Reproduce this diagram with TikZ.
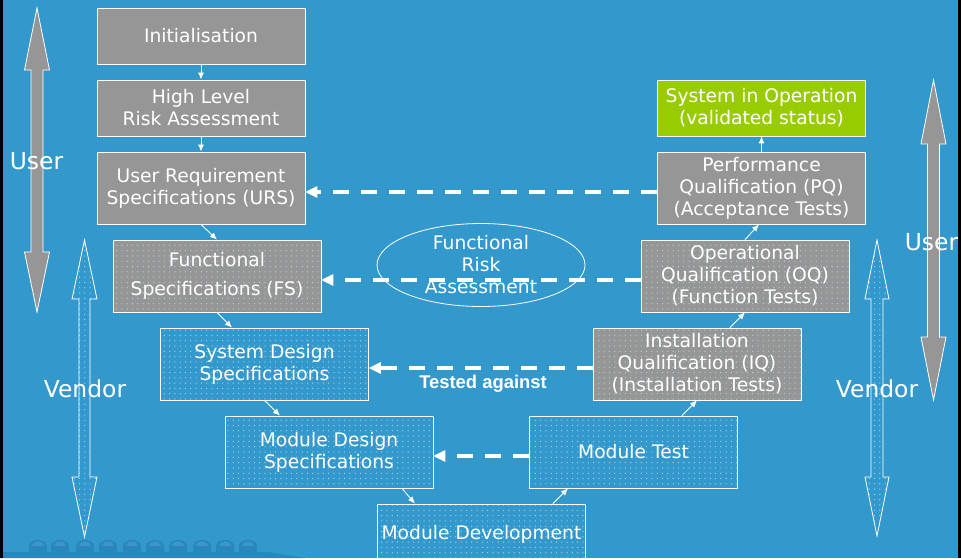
\documentclass[tikz,border=0pt]{standalone}
\usepackage{fontspec}
\setmainfont{DejaVu Sans}
\newfontfamily\arialfont{Liberation Sans}
\usetikzlibrary{arrows.meta,shapes.geometric,patterns.meta}
\definecolor{bgblue}{RGB}{51,153,204}
\definecolor{boxgray}{RGB}{150,150,150}
\definecolor{opgreen}{RGB}{153,204,0}
\definecolor{dotcol}{RGB}{165,212,228}
\definecolor{darkband}{RGB}{40,136,190}
\definecolor{domecol}{RGB}{60,150,200}
\begin{document}
\begin{tikzpicture}[x=1pt,y=-1pt,
  txt/.style={text=white, font=\fontsize{18.7}{22}\selectfont, align=center},
  box/.style={txt, draw=white, line width=0.8pt, inner sep=0pt, minimum width=208pt},
  graybox/.style={box, fill=boxgray},
  greenbox/.style={box, fill=opgreen},
  dotgray/.style={box, preaction={fill=boxgray}, pattern={Dots[distance=5.3pt,radius=0.65pt]}, pattern color=dotcol},
  dotblue/.style={box, pattern={Dots[distance=5.3pt,radius=0.65pt]}, pattern color=dotcol},
  flow/.style={white, line width=0.9pt, -{Latex[length=7pt,width=6pt]}},
  dasharrow/.style={white, line width=4pt, dash pattern=on 16pt off 12pt, -{Triangle[length=12pt,width=12pt,line width=0pt]}},
  side/.style={text=white, font=\fontsize{23.4}{28}\selectfont, inner sep=0pt},
  graybig/.style={draw=white, line width=0.8pt, fill=boxgray},
  dotbig/.style={draw=white, line width=0.8pt, pattern={Dots[distance=5.3pt,radius=0.65pt]}, pattern color=dotcol},
]
\useasboundingbox (0,0) rectangle (961,558);
\fill[bgblue] (0,0) rectangle (961,558);

% bottom decoration
\fill[darkband] (0,552) -- (268,552) -- (305,558) -- (0,558) -- cycle;
\foreach \dx in {38,60,85,108,132,155,178,202,225,248}{
  \fill[darkband] (\dx-9,553) -- (\dx-9,546) .. controls (\dx-9,538) and (\dx+9,538) .. (\dx+9,546) -- (\dx+9,553) -- cycle;
  \fill[domecol] (\dx-6,546) .. controls (\dx-6,540) and (\dx+6,540) .. (\dx+6,546) -- cycle;
}

% black edges
\fill[black] (0,0) rectangle (3,558);
\fill[black] (958,0) rectangle (961,558);

% big side arrows
\draw[graybig] (37,8) -- (49.5,70) -- (43,70) -- (43,252) -- (49.5,252) -- (37,312) -- (24.5,252) -- (31,252) -- (31,70) -- (24.5,70) -- cycle;
\draw[graybig] (933.5,80) -- (946,144) -- (939.5,144) -- (939.5,337) -- (946,337) -- (933.5,400) -- (921,337) -- (927.5,337) -- (927.5,144) -- (921,144) -- cycle;
\draw[dotbig] (84.5,240) -- (97,299) -- (90,299) -- (90,477) -- (97,477) -- (84.5,537) -- (72,477) -- (79,477) -- (79,299) -- (72,299) -- cycle;
\draw[dotbig] (877,240) -- (889,299) -- (883,299) -- (883,477) -- (889,477) -- (877,536) -- (865,477) -- (871,477) -- (871,299) -- (865,299) -- cycle;

\node[side] (userL) at (36.5,161) {User};
\node[side] (vendL) at (85,389) {Vendor};
\node[side] (userR) at (931.5,242) {User};
\node[side] (vendR) at (877,389) {Vendor};

% boxes
\node[graybox, minimum height=56pt] (init) at (201,36) {Initialisation};
\node[graybox, minimum height=56pt] (hlra) at (201,108) {High Level\\ Risk Assessment};
\node[graybox, minimum height=72pt] (urs) at (201,188) {User Requirement\\Specifications (URS)};
\node[dotgray, minimum height=72pt] (fs) at (217,276) {Functional\\[7pt]Specifications (FS)};
\node[dotblue, minimum height=72pt] (sds) at (264.5,364) {System Design\\Specifications};
\node[dotblue, minimum height=72pt] (mds) at (329,452) {Module Design\\Specifications};
\node[dotblue, minimum height=60pt] (md) at (481.5,534) {Module Development};
\node[dotblue, minimum height=72pt] (mt) at (633.5,452) {Module Test};
\node[dotgray, minimum height=72pt] (iq) at (697,364) {Installation\\Qualification (IQ)\\(Installation Tests)};
\node[dotgray, minimum height=72pt] (oq) at (745,276) {Operational\\Qualification (OQ)\\(Function Tests)};
\node[graybox, minimum height=72pt] (pq) at (761.5,188) {Performance\\Qualification (PQ)\\(Acceptance Tests)};
\node[greenbox, minimum height=56pt] (sio) at (761.5,108) {System in Operation\\(validated status)};

\node[txt, draw=white, line width=0.8pt, ellipse, minimum width=208pt, minimum height=83pt, inner sep=0pt] (fra) at (481,265) {Functional\\Risk\\Assessment};

% solid flow arrows
\draw[flow] (init.south) -- (hlra.north);
\draw[flow] (hlra.south) -- (urs.north);
\draw[flow] (urs.south) -- (fs.north);
\draw[flow] (fs.south) -- ([xshift=-32.5pt]sds.north);
\draw[flow] (sds.south) -- ([xshift=-49pt]mds.north);
\draw[flow] ([xshift=73pt]mds.south) -- ([xshift=-66.5pt]md.north);
\draw[flow] ([xshift=71.5pt]md.north) -- ([xshift=-65.5pt]mt.south);
\draw[flow] ([xshift=48.5pt]mt.north) -- (iq.south);
\draw[flow] ([xshift=33pt]iq.north) -- (oq.south);
\draw[flow] (oq.north) -- ([xshift=-2.5pt]pq.south);
\draw[flow] (pq.north) -- (sio.south);

% dashed "tested against" arrows
\draw[dasharrow] ([yshift=-4pt]pq.west) -- ([yshift=-4pt]urs.east);
\draw[dasharrow] ([yshift=-4pt]oq.west) -- ([yshift=-4pt]fs.east);
\draw[dasharrow] ([yshift=-4pt]iq.west) -- ([yshift=-4pt]sds.east);
\draw[dasharrow] ([yshift=-4pt]mt.west) -- ([yshift=-4pt]mds.east);

\node[text=white, font=\arialfont\bfseries\fontsize{18.4}{22}\selectfont, inner sep=0pt] (ta) at (483,384) {Tested against};
\end{tikzpicture}
\end{document}
